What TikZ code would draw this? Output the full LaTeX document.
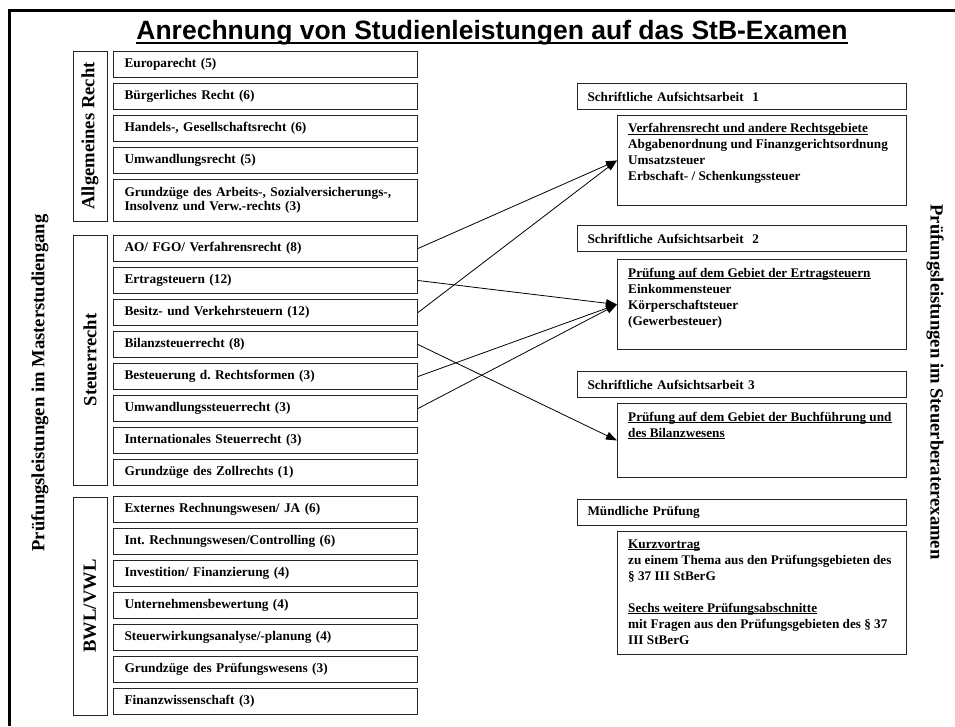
\documentclass[tikz,border=0pt]{standalone}
\usepackage{fontspec}
\setmainfont{Liberation Serif}
\newfontfamily\titlefont{Liberation Sans}
\usetikzlibrary{arrows.meta}
\frenchspacing

% underline that runs through descenders, as word processors draw it
\newcommand\ulx[1]{\setbox0\hbox{#1}\rlap{\rule[-1.6pt]{\wd0}{0.9pt}}\box0}

\tikzset{
  subj/.style={draw=black!85, line width=1pt, anchor=north west,
    minimum height=26pt, inner xsep=11pt, inner ysep=0pt,
    text width=282pt, align=left,
    font=\fontsize{13.3}{14.5}\selectfont\bfseries},
  groupbox/.style={draw=black!85, line width=1pt, rotate=90,
    minimum height=34pt, inner sep=0pt,
    font=\fontsize{18.6}{20}\selectfont\bfseries},
  headbox/.style={draw=black!85, line width=1pt, anchor=north west,
    minimum height=26pt, inner xsep=10pt, inner ysep=0pt,
    text width=309pt, align=left,
    font=\fontsize{13.2}{14.5}\selectfont\bfseries},
  contbox/.style={draw=black!85, line width=1pt, anchor=north west,
    minimum width=289pt, inner sep=0pt},
  conttext/.style={anchor=north west, inner sep=0pt, align=left,
    font=\fontsize{13.2}{16}\selectfont\bfseries},
  sidelabel/.style={inner sep=0pt, font=\fontsize{18.6}{20}\selectfont\bfseries},
  link/.style={line width=0.8pt, -{Triangle[length=11pt,width=8pt]}}
}

\begin{document}
\begin{tikzpicture}[x=1pt,y=-1pt]
\useasboundingbox (0,0) rectangle (955,726);

% frame
\draw[line width=3pt] (9.5,726) -- (9.5,10.5) -- (955,10.5);

% title
\node[font=\titlefont\bfseries\fontsize{26.5}{30}\selectfont, inner sep=0pt, anchor=base]
  (title) at (492,39) {Anrechnung von Studienleistungen auf das StB-Examen};
\draw[line width=1.9pt] ([yshift=-3.6pt]title.base west) -- ([yshift=-3.6pt]title.base east);

% side labels
\node[sidelabel, rotate=90] (lefttitle) at (40,383) {Prüfungsleistungen im Masterstudiengang};
\node[sidelabel, rotate=-90] (righttitle) at (935,382) {Prüfungsleistungen im Steuerberaterexamen};

% group boxes
\node[groupbox, minimum width=170pt] (gA) at (90,136) {Allgemeines Recht};
\node[groupbox, minimum width=250pt] (gS) at (90,360) {Steuerrecht};
\node[groupbox, minimum width=218pt] (gB) at (90,606) {BWL/VWL};

% Allgemeines Recht
\node[subj] (a1) at (113,51) {Europarecht (5)};
\node[subj] (a2) at (113,83) {Bürgerliches Recht (6)};
\node[subj] (a3) at (113,115) {Handels-, Gesellschaftsrecht (6)};
\node[subj] (a4) at (113,147) {Umwandlungsrecht (5)};
\node[subj, minimum height=42pt] (a5) at (113,179)
  {Grundzüge des Arbeits-, Sozialversicherungs-,\\Insolvenz und Verw.-rechts (3)};

% Steuerrecht
\node[subj] (s1) at (113,235) {AO/ FGO/ Verfahrensrecht (8)};
\node[subj] (s2) at (113,267) {Ertragsteuern (12)};
\node[subj] (s3) at (113,299) {Besitz- und Verkehrsteuern (12)};
\node[subj] (s4) at (113,331) {Bilanzsteuerrecht (8)};
\node[subj] (s5) at (113,363) {Besteuerung d. Rechtsformen (3)};
\node[subj] (s6) at (113,395) {Umwandlungssteuerrecht (3)};
\node[subj] (s7) at (113,427) {Internationales Steuerrecht (3)};
\node[subj] (s8) at (113,459) {Grundzüge des Zollrechts (1)};

% BWL/VWL
\node[subj] (b1) at (113,496) {Externes Rechnungswesen/ JA (6)};
\node[subj] (b2) at (113,528) {Int. Rechnungswesen/Controlling (6)};
\node[subj] (b3) at (113,560) {Investition/ Finanzierung (4)};
\node[subj] (b4) at (113,592) {Unternehmensbewertung (4)};
\node[subj] (b5) at (113,624) {Steuerwirkungsanalyse/-planung (4)};
\node[subj] (b6) at (113,656) {Grundzüge des Prüfungswesens (3)};
\node[subj] (b7) at (113,688) {Finanzwissenschaft (3)};

% exam parts
\node[headbox] (h1) at (577,83) {Schriftliche Aufsichtsarbeit\ \ 1};
\node[contbox, minimum height=90pt] (c1) at (617,115) {};
\node[conttext] (t1) at ([xshift=11pt,yshift=-8.5pt]c1.north west)
  {\ulx{Verfahrensrecht und andere Rechtsgebiete}\\
   Abgabenordnung und Finanzgerichtsordnung\\
   Umsatzsteuer\\
   Erbschaft- / Schenkungssteuer};

\node[headbox] (h2) at (577,225) {Schriftliche Aufsichtsarbeit\ \ 2};
\node[contbox, minimum height=90pt] (c2) at (617,259) {};
\node[conttext] (t2) at ([xshift=11pt,yshift=-8.5pt]c2.north west)
  {\ulx{Prüfung auf dem Gebiet der Ertragsteuern}\\
   Einkommensteuer\\
   Körperschaftsteuer\\
   (Gewerbesteuer)};

\node[headbox] (h3) at (577,371) {Schriftliche Aufsichtsarbeit 3};
\node[contbox, minimum height=74pt] (c3) at (617,403) {};
\node[conttext] (t3) at ([xshift=11pt,yshift=-8.5pt]c3.north west)
  {\ulx{Prüfung auf dem Gebiet der Buchführung und}\\
   \ulx{des Bilanzwesens}};

\node[headbox] (h4) at (577,499) {Mündliche Prüfung};
\node[contbox, minimum height=123pt] (c4) at (617,531) {};
\node[conttext] (t4) at ([xshift=11pt,yshift=-8.5pt]c4.north west)
  {\ulx{Kurzvortrag}\\
   zu einem Thema aus den Prüfungsgebieten des\\
   § 37 III StBerG\\[16pt]
   \ulx{Sechs weitere Prüfungsabschnitte}\\
   mit Fragen aus den Prüfungsgebieten des § 37\\
   III StBerG};

% assignments
\draw[link] (s1.east) -- (c1.west);
\draw[link] (s3.east) -- (c1.west);
\draw[link] (s2.east) -- (c2.west);
\draw[link] (s5.east) -- (c2.west);
\draw[link] (s6.east) -- (c2.west);
\draw[link] (s4.east) -- (c3.west);
\end{tikzpicture}
\end{document}
